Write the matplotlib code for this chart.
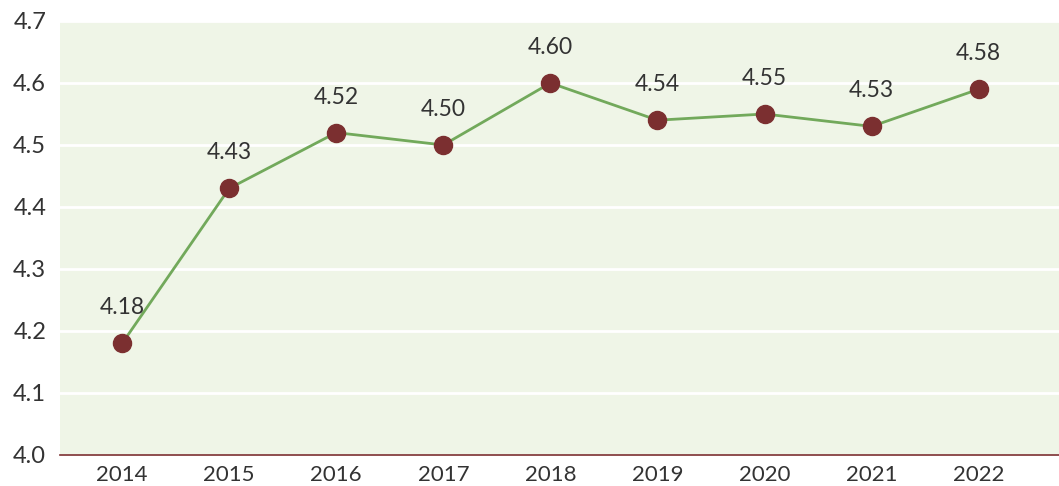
import matplotlib.pyplot as plt

years = ['2014', '2015', '2016', '2017', '2018', '2019', '2020', '2021', '2022']
values = [4.18, 4.43, 4.52, 4.50, 4.60, 4.54, 4.55, 4.53, 4.59]
labels = ['4.18', '4.43', '4.52', '4.50', '4.60', '4.54', '4.55', '4.53', '4.58']

plt.rcParams['font.family'] = ['Lato', 'DejaVu Sans']

fig = plt.figure(figsize=(10.59, 4.86), dpi=100)
ax = fig.add_axes([0.0567, 0.0638, 0.9433, 0.893])
ax.set_facecolor('#eff5e7')

x = list(range(len(years)))
ax.plot(x, values, color='#72a95b', linewidth=2, marker='o', markersize=13,
        markerfacecolor='#7b2f30', markeredgecolor='#7b2f30', zorder=3)

for xi, v, lab in zip(x, values, labels):
    ax.annotate(lab, (xi, v), xytext=(0, 18), textcoords='offset points',
                ha='center', va='bottom', fontsize=16.5, color='#333333')

ax.set_ylim(4.0, 4.7)
ax.set_yticks([4.0, 4.1, 4.2, 4.3, 4.4, 4.5, 4.6, 4.7])
ax.set_yticklabels(['4.0', '4.1', '4.2', '4.3', '4.4', '4.5', '4.6', '4.7'])
ax.set_xlim(-0.58, 8.75)
ax.set_xticks(x)
ax.set_xticklabels(years)
ax.grid(axis='y', color='white', linewidth=2)
ax.set_axisbelow(True)

for s in ['top', 'right', 'left']:
    ax.spines[s].set_visible(False)
ax.spines['bottom'].set_color('#7b2f30')
ax.spines['bottom'].set_linewidth(1.2)
ax.tick_params(axis='y', length=0, pad=10, labelsize=17, labelcolor='#333333')
ax.tick_params(axis='x', length=0, pad=7, labelsize=16, labelcolor='#333333')

fig.savefig('out.png', dpi=100)
